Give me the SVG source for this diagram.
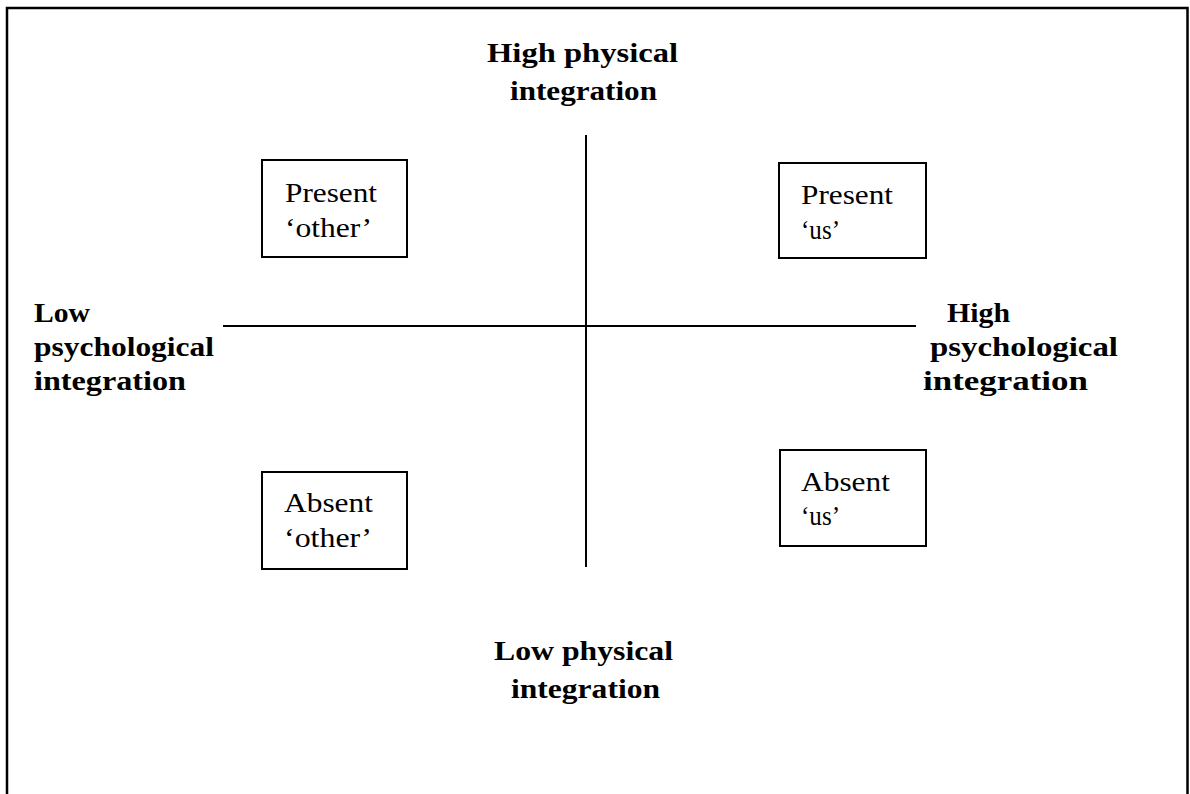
<svg xmlns="http://www.w3.org/2000/svg" width="1190" height="794" viewBox="0 0 1190 794">
<style>
.t{font-family:"Liberation Serif","Times New Roman",serif;font-size:28px;fill:#000}
.b{font-weight:bold}
.box{fill:#fff;stroke:#000;stroke-width:2}
.ax{stroke:#000;stroke-width:2;fill:none}
</style>
<rect width="1190" height="794" fill="#fff"/>
<path d="M7,800 V8 H1187.5 V800" fill="none" stroke="#000" stroke-width="2.5"/>
<g id="connectors">
<line class="ax" x1="586" y1="135" x2="586" y2="567"/>
<line class="ax" x1="223" y1="326" x2="916" y2="326"/>
</g>
<g id="label-top">
<text class="t b" x="487" y="62" textLength="191" lengthAdjust="spacingAndGlyphs">High physical</text>
<text class="t b" x="510" y="100" textLength="147" lengthAdjust="spacingAndGlyphs">integration</text>
</g>
<g id="label-bottom">
<text class="t b" x="494" y="660" textLength="179" lengthAdjust="spacingAndGlyphs">Low physical</text>
<text class="t b" x="511" y="698" textLength="149" lengthAdjust="spacingAndGlyphs">integration</text>
</g>
<g id="label-left">
<text class="t b" x="34" y="322" textLength="56" lengthAdjust="spacingAndGlyphs">Low</text>
<text class="t b" x="34" y="356" textLength="180" lengthAdjust="spacingAndGlyphs">psychological</text>
<text class="t b" x="34" y="390" textLength="152" lengthAdjust="spacingAndGlyphs">integration</text>
</g>
<g id="label-right">
<text class="t b" x="947" y="322" textLength="63" lengthAdjust="spacingAndGlyphs">High</text>
<text class="t b" x="930" y="356" textLength="188" lengthAdjust="spacingAndGlyphs">psychological</text>
<text class="t b" x="923" y="390" textLength="165" lengthAdjust="spacingAndGlyphs">integration</text>
</g>
<g id="present-other">
<rect class="box" x="262" y="160" width="145" height="97"/>
<text class="t" x="285" y="202" textLength="92" lengthAdjust="spacingAndGlyphs">Present</text>
<text class="t" x="285" y="237" textLength="87" lengthAdjust="spacingAndGlyphs">‘other’</text>
</g>
<g id="present-us">
<rect class="box" x="779" y="163" width="147" height="95"/>
<text class="t" x="801" y="204" textLength="92" lengthAdjust="spacingAndGlyphs">Present</text>
<text class="t" x="801" y="239" textLength="39" lengthAdjust="spacingAndGlyphs">‘us’</text>
</g>
<g id="absent-other">
<rect class="box" x="262" y="472" width="145" height="97"/>
<text class="t" x="284" y="512" textLength="89" lengthAdjust="spacingAndGlyphs">Absent</text>
<text class="t" x="284" y="547" textLength="88" lengthAdjust="spacingAndGlyphs">‘other’</text>
</g>
<g id="absent-us">
<rect class="box" x="780" y="450" width="146" height="96"/>
<text class="t" x="801" y="491" textLength="89" lengthAdjust="spacingAndGlyphs">Absent</text>
<text class="t" x="801" y="525" textLength="39" lengthAdjust="spacingAndGlyphs">‘us’</text>
</g>
</svg>
